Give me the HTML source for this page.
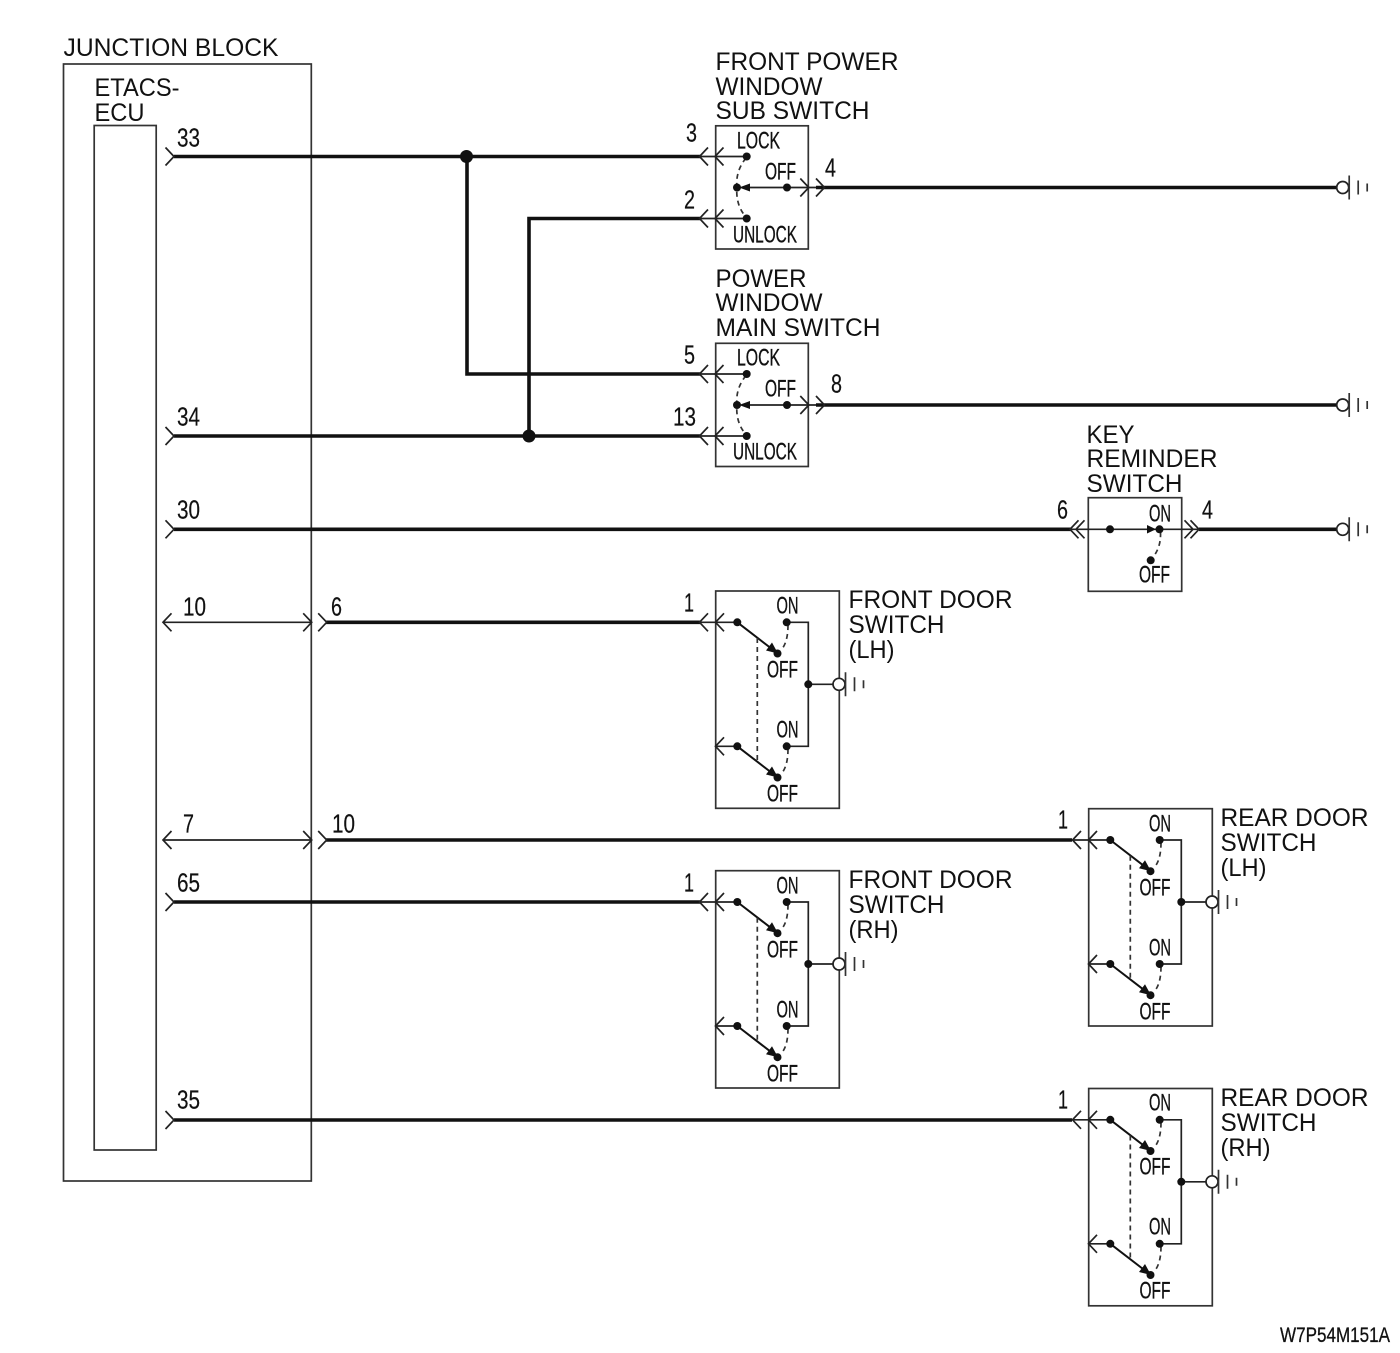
<!DOCTYPE html>
<html><head><meta charset="utf-8"><style>
html,body{margin:0;padding:0;background:#fff}
svg{display:block}
text{font-family:"Liberation Sans",sans-serif;fill:#111}
.l{font-size:25px;transform:translateX(-0.5px)}
.n{font-size:26px;stroke:#111;stroke-width:.2;transform:translateY(-0.5px)}
.s{font-size:24px;stroke:#111;stroke-width:.35;transform:translateY(-0.7px)}
.w{fill:none;stroke:#111;stroke-width:3.6}
.t{fill:none;stroke:#222;stroke-width:1.7}
.b{fill:none;stroke:#333;stroke-width:1.7}
.d{fill:none;stroke:#333;stroke-width:1.7;stroke-dasharray:5 4}
</style></head><body>
<svg width="1400" height="1353" viewBox="0 0 1400 1353" xmlns="http://www.w3.org/2000/svg">
<defs>
<g id="gnd"><circle cx="0" cy="0" r="6" fill="#fff" stroke="#222" stroke-width="1.7"/><path d="M6.5-12V12M15.5-7V7M24.5-4V4" fill="none" stroke="#333" stroke-width="1.7"/></g>
<g id="cl"><path d="M8.5-9L0 0L8.5 9" fill="none" stroke="#222" stroke-width="1.7"/></g>
<g id="cr"><path d="M-8.5-9L0 0L-8.5 9" fill="none" stroke="#222" stroke-width="1.7"/></g>
<g id="pw">
<rect x="715.7" y="125.8" width="92.6" height="123.2" class="b"/>
<path d="M700 156.5H746.7M700 218.5H746.7M742 187.5H816" class="t"/>
<path d="M746 158C738 168 736 178 737 187C736 197 738 208 746 217" class="d"/>
<circle cx="746.7" cy="156.5" r="4" fill="#111"/><circle cx="746.7" cy="218.5" r="4" fill="#111"/>
<circle cx="737" cy="187.5" r="4" fill="#111"/><circle cx="787" cy="187.5" r="4" fill="#111"/>
<path d="M739 187.5L750 183.5V191.5Z" fill="#111"/>
<use href="#cl" x="699.5" y="156.5"/><use href="#cl" x="715" y="156.5"/>
<use href="#cl" x="699.5" y="218.5"/><use href="#cl" x="715" y="218.5"/>
<use href="#cr" x="808.8" y="187.5"/><use href="#cr" x="824.5" y="187.5"/>
</g>
<g id="door">
<rect x="715.7" y="591" width="123.6" height="217.3" class="b"/>
<path d="M700 622.3H737.3M786.7 622.3H808.3V746.3H786.7M715.7 746.3H737.3M808.3 684.3H833" class="t"/>
<path d="M737.3 622.3L770 647.5M737.3 746.3L770 771.5" fill="none" stroke="#111" stroke-width="2"/>
<path d="M778 653.5L766 650.5L772 642.5ZM778 777.5L766 774.5L772 766.5Z" fill="#111"/>
<path d="M757.3 638V762" class="d"/>
<path d="M788 625C788 638 785 646 781 650M788 749C788 762 785 770 781 774" class="d"/>
<circle cx="737.3" cy="622.3" r="4" fill="#111"/><circle cx="786.7" cy="622.3" r="4" fill="#111"/><circle cx="777.5" cy="653.5" r="4" fill="#111"/>
<circle cx="737.3" cy="746.3" r="4" fill="#111"/><circle cx="786.7" cy="746.3" r="4" fill="#111"/><circle cx="777.5" cy="777.5" r="4" fill="#111"/>
<circle cx="808.3" cy="684.3" r="4" fill="#111"/>
<use href="#cl" x="699.5" y="622.3"/><use href="#cl" x="715.5" y="622.3"/><use href="#cl" x="715.5" y="746.3"/>
<use href="#gnd" x="839" y="684.3"/>
</g>
</defs>

<rect x="63.5" y="64" width="247.8" height="1117" class="b"/>
<rect x="94.2" y="125.5" width="62" height="1024.5" class="b"/>

<!-- wires -->
<path d="M174 156.5H700M467 156.5V374H700M174 436H700M529 436V218.5H700M816 187.5H1338M816 405H1338M174 529.3H1071M1199 529.3H1338M326 622.3H700M326 840H1072M174 902H700M174 1120H1072" class="w"/>
<circle cx="466.5" cy="156.5" r="6.5" fill="#111"/><circle cx="529" cy="436" r="6.5" fill="#111"/>
<path d="M163 622.3H311.5M163 840H311.5" class="t"/>

<!-- ECU side terminals -->
<use href="#cr" x="174" y="156.5"/><use href="#cr" x="174" y="436"/><use href="#cr" x="174" y="529.3"/><use href="#cr" x="174" y="902"/><use href="#cr" x="174" y="1120"/>
<use href="#cl" x="163" y="622.3"/><use href="#cr" x="311.7" y="622.3"/><use href="#cr" x="326.7" y="622.3"/>
<use href="#cl" x="163" y="840"/><use href="#cr" x="311.7" y="840"/><use href="#cr" x="326.7" y="840"/>

<use href="#pw"/>
<use href="#pw" y="217.5"/>
<use href="#gnd" x="1342.7" y="187.5"/>
<use href="#gnd" x="1342.7" y="405"/>
<use href="#gnd" x="1342.7" y="529.3"/>

<!-- key reminder switch -->
<rect x="1088.3" y="497.7" width="93.4" height="93.6" class="b"/>
<path d="M1071 529.3H1199" class="t"/>
<path d="M1160.5 532C1161 543 1158 550 1154 556" class="d"/>
<path d="M1147 525L1156 529.3L1147 533.5Z" fill="#111"/>
<circle cx="1110" cy="529.3" r="4" fill="#111"/><circle cx="1159.5" cy="529.3" r="4" fill="#111"/><circle cx="1150.7" cy="560.3" r="4" fill="#111"/>
<use href="#cl" x="1070" y="529.3"/><use href="#cl" x="1076" y="529.3"/>
<use href="#cr" x="1193" y="529.3"/><use href="#cr" x="1199" y="529.3"/>

<!-- door switches -->
<use href="#door"/>
<use href="#door" y="279.7"/>
<use href="#door" x="373" y="217.7"/>
<use href="#door" x="373" y="497.5"/>

<!-- main labels -->
<text class="l" x="64" y="56" textLength="215" lengthAdjust="spacingAndGlyphs">JUNCTION BLOCK</text>
<text class="l" x="95" y="96" textLength="85" lengthAdjust="spacingAndGlyphs">ETACS-</text>
<text class="l" x="95" y="121" textLength="50" lengthAdjust="spacingAndGlyphs">ECU</text>
<text class="l" x="716" y="70" textLength="183" lengthAdjust="spacingAndGlyphs">FRONT POWER</text>
<text class="l" x="716" y="95" textLength="107" lengthAdjust="spacingAndGlyphs">WINDOW</text>
<text class="l" x="716" y="119" textLength="154" lengthAdjust="spacingAndGlyphs">SUB SWITCH</text>
<text class="l" x="716" y="287" textLength="91" lengthAdjust="spacingAndGlyphs">POWER</text>
<text class="l" x="716" y="311" textLength="107" lengthAdjust="spacingAndGlyphs">WINDOW</text>
<text class="l" x="716" y="336" textLength="165" lengthAdjust="spacingAndGlyphs">MAIN SWITCH</text>
<text class="l" x="1087" y="443" textLength="48" lengthAdjust="spacingAndGlyphs">KEY</text>
<text class="l" x="1087" y="467" textLength="131" lengthAdjust="spacingAndGlyphs">REMINDER</text>
<text class="l" x="1087" y="492" textLength="96" lengthAdjust="spacingAndGlyphs">SWITCH</text>
<text class="l" x="849" y="608" textLength="164" lengthAdjust="spacingAndGlyphs">FRONT DOOR</text>
<text class="l" x="849" y="633" textLength="96" lengthAdjust="spacingAndGlyphs">SWITCH</text>
<text class="l" x="849" y="658" textLength="46" lengthAdjust="spacingAndGlyphs">(LH)</text>
<text class="l" x="849" y="888" textLength="164" lengthAdjust="spacingAndGlyphs">FRONT DOOR</text>
<text class="l" x="849" y="913" textLength="96" lengthAdjust="spacingAndGlyphs">SWITCH</text>
<text class="l" x="849" y="938" textLength="50" lengthAdjust="spacingAndGlyphs">(RH)</text>
<text class="l" x="1221" y="826" textLength="148" lengthAdjust="spacingAndGlyphs">REAR DOOR</text>
<text class="l" x="1221" y="851" textLength="96" lengthAdjust="spacingAndGlyphs">SWITCH</text>
<text class="l" x="1221" y="876" textLength="46" lengthAdjust="spacingAndGlyphs">(LH)</text>
<text class="l" x="1221" y="1106" textLength="148" lengthAdjust="spacingAndGlyphs">REAR DOOR</text>
<text class="l" x="1221" y="1131" textLength="96" lengthAdjust="spacingAndGlyphs">SWITCH</text>
<text class="l" x="1221" y="1156" textLength="50" lengthAdjust="spacingAndGlyphs">(RH)</text>

<!-- pin numbers -->
<text class="n" x="177" y="147" textLength="23" lengthAdjust="spacingAndGlyphs">33</text>
<text class="n" x="686" y="142" textLength="11" lengthAdjust="spacingAndGlyphs">3</text>
<text class="n" x="684" y="209" textLength="11" lengthAdjust="spacingAndGlyphs">2</text>
<text class="n" x="825" y="177" textLength="11" lengthAdjust="spacingAndGlyphs">4</text>
<text class="n" x="684" y="364" textLength="11" lengthAdjust="spacingAndGlyphs">5</text>
<text class="n" x="673" y="426" textLength="23" lengthAdjust="spacingAndGlyphs">13</text>
<text class="n" x="831" y="393" textLength="11" lengthAdjust="spacingAndGlyphs">8</text>
<text class="n" x="177" y="426" textLength="23" lengthAdjust="spacingAndGlyphs">34</text>
<text class="n" x="177" y="519" textLength="23" lengthAdjust="spacingAndGlyphs">30</text>
<text class="n" x="1057" y="519" textLength="11" lengthAdjust="spacingAndGlyphs">6</text>
<text class="n" x="1202" y="519" textLength="11" lengthAdjust="spacingAndGlyphs">4</text>
<text class="n" x="183" y="616" textLength="23" lengthAdjust="spacingAndGlyphs">10</text>
<text class="n" x="331" y="616" textLength="11" lengthAdjust="spacingAndGlyphs">6</text>
<text class="n" x="684" y="612" textLength="10" lengthAdjust="spacingAndGlyphs">1</text>
<text class="n" x="183" y="833" textLength="11" lengthAdjust="spacingAndGlyphs">7</text>
<text class="n" x="332" y="833" textLength="23" lengthAdjust="spacingAndGlyphs">10</text>
<text class="n" x="1058" y="829" textLength="10" lengthAdjust="spacingAndGlyphs">1</text>
<text class="n" x="177" y="892" textLength="23" lengthAdjust="spacingAndGlyphs">65</text>
<text class="n" x="684" y="892" textLength="10" lengthAdjust="spacingAndGlyphs">1</text>
<text class="n" x="177" y="1109" textLength="23" lengthAdjust="spacingAndGlyphs">35</text>
<text class="n" x="1058" y="1109" textLength="10" lengthAdjust="spacingAndGlyphs">1</text>

<!-- switch labels: power window -->
<text class="s" x="737" y="149" textLength="43" lengthAdjust="spacingAndGlyphs">LOCK</text>
<text class="s" x="765" y="180" textLength="31" lengthAdjust="spacingAndGlyphs">OFF</text>
<text class="s" x="733" y="243" textLength="64" lengthAdjust="spacingAndGlyphs">UNLOCK</text>
<text class="s" x="737" y="366" textLength="43" lengthAdjust="spacingAndGlyphs">LOCK</text>
<text class="s" x="765" y="397" textLength="31" lengthAdjust="spacingAndGlyphs">OFF</text>
<text class="s" x="733" y="460" textLength="64" lengthAdjust="spacingAndGlyphs">UNLOCK</text>
<!-- key -->
<text class="s" x="1149" y="522" textLength="22" lengthAdjust="spacingAndGlyphs">ON</text>
<text class="s" x="1139" y="583" textLength="31" lengthAdjust="spacingAndGlyphs">OFF</text>
<!-- front LH -->
<text class="s" x="776.5" y="614" textLength="22" lengthAdjust="spacingAndGlyphs">ON</text>
<text class="s" x="767" y="678" textLength="31" lengthAdjust="spacingAndGlyphs">OFF</text>
<text class="s" x="776.5" y="738" textLength="22" lengthAdjust="spacingAndGlyphs">ON</text>
<text class="s" x="767" y="802" textLength="31" lengthAdjust="spacingAndGlyphs">OFF</text>
<!-- front RH -->
<text class="s" x="776.5" y="894" textLength="22" lengthAdjust="spacingAndGlyphs">ON</text>
<text class="s" x="767" y="958" textLength="31" lengthAdjust="spacingAndGlyphs">OFF</text>
<text class="s" x="776.5" y="1018" textLength="22" lengthAdjust="spacingAndGlyphs">ON</text>
<text class="s" x="767" y="1082" textLength="31" lengthAdjust="spacingAndGlyphs">OFF</text>
<!-- rear LH -->
<text class="s" x="1149" y="832" textLength="22" lengthAdjust="spacingAndGlyphs">ON</text>
<text class="s" x="1139.5" y="896" textLength="31" lengthAdjust="spacingAndGlyphs">OFF</text>
<text class="s" x="1149" y="956" textLength="22" lengthAdjust="spacingAndGlyphs">ON</text>
<text class="s" x="1139.5" y="1020" textLength="31" lengthAdjust="spacingAndGlyphs">OFF</text>
<!-- rear RH -->
<text class="s" x="1149" y="1111" textLength="22" lengthAdjust="spacingAndGlyphs">ON</text>
<text class="s" x="1139.5" y="1175" textLength="31" lengthAdjust="spacingAndGlyphs">OFF</text>
<text class="s" x="1149" y="1235" textLength="22" lengthAdjust="spacingAndGlyphs">ON</text>
<text class="s" x="1139.5" y="1299" textLength="31" lengthAdjust="spacingAndGlyphs">OFF</text>

<text x="1280" y="1342" font-size="21" stroke="#111" stroke-width=".3" textLength="110" lengthAdjust="spacingAndGlyphs">W7P54M151A</text>
</svg>
</body></html>
